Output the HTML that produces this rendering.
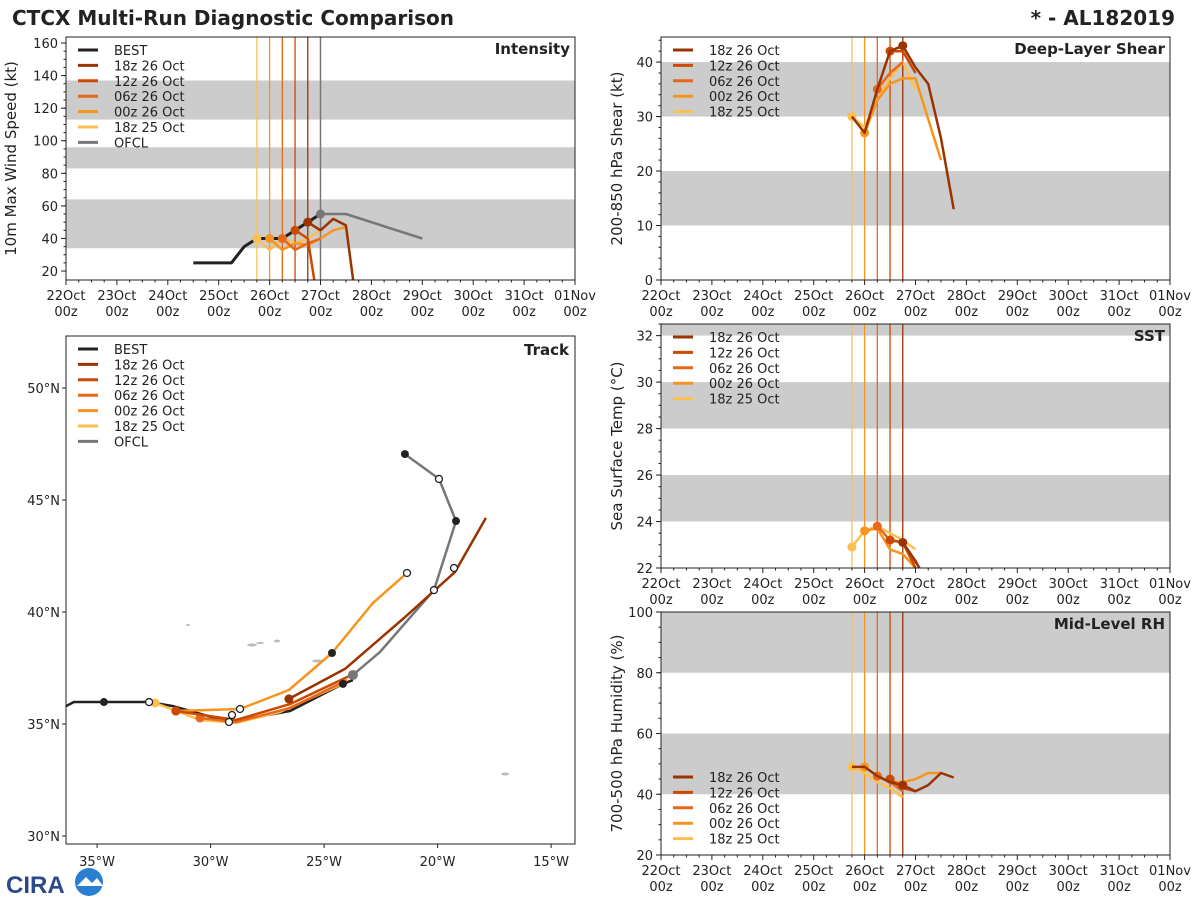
<!DOCTYPE html>
<html><head><meta charset="utf-8"><style>
html,body{margin:0;padding:0;background:#fff;}
svg{display:block;font-family:"DejaVu Sans","Liberation Sans",sans-serif;}
</style></head><body>
<svg id="c" width="1200" height="900" viewBox="0 0 1200 900">
<text x="12" y="25" font-size="20" font-weight="bold" fill="#222">CTCX Multi-Run Diagnostic Comparison</text>
<text x="1175" y="25" font-size="20" font-weight="bold" fill="#222" text-anchor="end">* - AL182019</text>
<g>
<text x="6" y="893" font-size="24" font-weight="bold" fill="#2a4a8a" font-family="Liberation Sans,sans-serif">CIRA</text>
<circle cx="89" cy="882" r="14" fill="#2a7fd0"/><path d="M77 886 L86 877 L92 883 L97 878 L103 886 Z" fill="#fff"/>
</g>
</svg>
<script>
// ---------------- data ----------------
const runNames = ["18z 26 Oct","12z 26 Oct","06z 26 Oct","00z 26 Oct","18z 25 Oct"];
const runColors = ["#993300","#cc4a00","#e8681a","#f7941d","#fdbf50"];
const runInit = [26.75,26.5,26.25,26.0,25.75];
const dateTicks = ["22Oct","23Oct","24Oct","25Oct","26Oct","27Oct","28Oct","29Oct","30Oct","31Oct","01Nov"];
// intensity (days since 22Oct 00z, kt)
const bestIntT = [24.5,25.25,25.5,25.75,26,26.25,26.5,26.75,27];
const bestIntV = [25,25,35,40,40,40,45,50,55];
const ofclIntT = [27,27.5,29];
const ofclIntV = [55,55,40];
const int18z26 = [[26.75,50],[27,45],[27.25,52],[27.5,48],[27.66,10]];
const int12z26 = [[26.5,45],[26.75,40],[26.9,10]];
const int06z26 = [[26.25,40],[26.5,33],[26.75,37],[27,40]];
const int00z26 = [[26,40],[26.25,33],[26.5,37],[26.75,36],[27,40],[27.25,45],[27.5,47]];
const int18z25 = [[25.75,40],[26,33],[26.25,40],[26.5,37],[26.75,40],[27,45]];
// shear
const shr18z26 = [[25.75,30],[26,27],[26.25,35],[26.5,42],[26.75,43],[27,39],[27.25,36],[27.5,26],[27.75,13]];
const shr12z26 = [[26.5,42],[26.75,42],[27,38]];
const shr06z26 = [[26.25,35],[26.5,38],[26.75,40]];
const shr00z26 = [[26,27],[26.25,33],[26.5,36],[26.75,37],[27,37],[27.5,22]];
const shr18z25 = [[25.75,30],[26,28],[26.25,33],[26.5,37],[26.75,40],[27,35]];
// sst
const sst18z26 = [[26.75,23.1],[27,22.3],[27.1,21.9]];
const sst12z26 = [[26.5,23.2],[26.75,23.1],[27,22]];
const sst06z26 = [[26.25,23.8],[26.5,23.2],[26.75,23.1],[27,22.2]];
const sst00z26 = [[26,23.6],[26.25,23.7],[26.5,22.8],[26.75,22.6],[27,22]];
const sst18z25 = [[25.75,22.9],[26,23.6],[26.25,23.8],[26.5,23.5],[26.75,23.2],[27,22.8]];
// rh
const rh18z26 = [[25.75,49],[26,49],[26.25,46],[26.5,44],[26.75,43],[27,41],[27.25,43],[27.5,47],[27.75,45.5]];
const rh12z26 = [[26.5,45],[26.75,42],[27,41]];
const rh06z26 = [[26.25,46],[26.5,44],[26.75,41]];
const rh00z26 = [[26,49],[26.25,46],[26.5,44],[26.75,44],[27,45],[27.25,47],[27.5,47]];
const rh18z25 = [[25.75,49],[26,47],[26.25,44],[26.5,42],[26.75,39]];
// track (lon, lat)
const bestLon = [-36.37,-36.02,-34.70,-32.71,-31.66,-29.19,-26.50,-24.17,-23.73];
const bestLat = [35.80,35.98,35.98,35.98,35.80,35.09,35.58,36.79,36.96];
const ofclLon = [-23.73,-22.54,-20.16,-19.19,-19.94,-21.44];
const ofclLat = [37.19,38.21,40.98,44.06,45.94,47.05];
const trk18z26 = [[-26.55,36.12],[-24.08,37.46],[-21.48,39.73],[-19.23,41.79],[-17.87,44.2]];
const trk12z26 = [[-31.53,35.58],[-28.88,35.18],[-26.5,35.89],[-23.9,37.14]];
const trk06z26 = [[-30.47,35.27],[-28.88,35.09],[-26.5,35.71],[-23.99,36.96]];
const trk00z26 = [[-31.53,35.58],[-28.7,35.67],[-26.55,36.52],[-24.65,38.17],[-22.85,40.4],[-21.35,41.74]];
const trk18z25 = [[-32.45,35.94],[-30.47,35.18],[-28.88,35.05],[-26.94,35.54],[-24.3,36.74]];

// ---------------- drawing ----------------
const svg = document.getElementById('c');
const NS = 'http://www.w3.org/2000/svg';
function mk(tag, attrs, parent){const e=document.createElementNS(NS,tag);for(const k in attrs)e.setAttribute(k,attrs[k]);(parent||svg).appendChild(e);return e;}
function txt(x,y,s,size,anchor,parent,extra){const e=mk('text',Object.assign({x:x,y:y,'font-size':size,'text-anchor':anchor||'start',fill:'#222'},extra||{}),parent);e.textContent=s;return e;}
function poly(pts,color,w,parent){return mk('polyline',{points:pts.map(p=>p[0].toFixed(1)+','+p[1].toFixed(1)).join(' '),fill:'none',stroke:color,'stroke-width':w,'stroke-linejoin':'round'},parent);}

function timePanel(cfg){
  const g = mk('g',{});
  
  
  const {x0,x1,y0,y1,vmin,vmax}=cfg;
  const X=d=>x0+(d-22)*(x1-x0)/10;
  const Y=v=>y1-(v-vmin)*(y1-y0)/(vmax-vmin);
  mk('defs',{},g).innerHTML=`<clipPath id="cl${cfg.id}"><rect x="${x0}" y="${y0}" width="${x1-x0}" height="${y1-y0}"/></clipPath>`;
  cfg.bands.forEach(b=>{const r=mk('rect',{x:x0,y:Y(Math.min(b[1],vmax)),width:x1-x0,height:Y(b[0])-Y(Math.min(b[1],vmax)),fill:'#cccccc'},g);
    
    });
  const dg=mk('g',{'clip-path':`url(#cl${cfg.id})`},g);
  runInit.forEach((t,i)=>{mk('line',{x1:X(t),x2:X(t),y1:y0,y2:y1,stroke:runColors[i],'stroke-width':1.3},dg);});
  if(cfg.ofclLine) mk('line',{x1:X(27),x2:X(27),y1:y0,y2:y1,stroke:'#777','stroke-width':1.5},dg);
  if(cfg.best){const l=poly(cfg.best.map(p=>[X(p[0]),Y(p[1])]),'#222',3,dg);
    
    }
  if(cfg.ofcl){const l=poly(cfg.ofcl.map(p=>[X(p[0]),Y(p[1])]),'#777',2.5,dg);
    
    
    mk('circle',{cx:X(cfg.ofcl[0][0]),cy:Y(cfg.ofcl[0][1]),r:4.5,fill:'#777'},dg);}
  for(let i=cfg.series.length-1;i>=0;i--){const s=cfg.series[i];
    const l=poly(s.map(p=>[X(p[0]),Y(p[1])]),runColors[i],2.5,dg);
    
    
    const ip=s.find(p=>Math.abs(p[0]-runInit[i])<0.01)||s[0];
    mk('circle',{cx:X(ip[0]),cy:Y(ip[1]),r:4.5,fill:runColors[i]},dg);}
  mk('rect',{x:x0,y:y0,width:x1-x0,height:y1-y0,fill:'none',stroke:'#222','stroke-width':1},g);
  for(let d=0;d<=10;d++){const x=X(22+d);mk('line',{x1:x,x2:x,y1:y1,y2:y1+5,stroke:'#222'},g);
    const t1=txt(x,y1+20,dateTicks[d],13,'middle',g);
    txt(x,y1+36,'00z',13,'middle',g);
    if(d<10)for(let q=1;q<4;q++)mk('line',{x1:x+q*(x1-x0)/40,x2:x+q*(x1-x0)/40,y1:y1,y2:y1+2.5,stroke:'#222'},g);}
  for(let v=cfg.tmin;v<=vmax+1e-6;v+=cfg.tstep){const y=Y(v);mk('line',{x1:x0-5,x2:x0,y1:y,y2:y,stroke:'#222'},g);
    const t=txt(x0-8,y+5,String(v),13,'end',g);}
  for(let v=cfg.mmin;v<=vmax+1e-6;v+=cfg.mstep){const y=Y(v);if(y<=y1&&y>=y0)mk('line',{x1:x0-2.5,x2:x0,y1:y,y2:y,stroke:'#222'},g);}
  const yt=txt(0,0,cfg.ylabel,15,'middle',g,{transform:`translate(${cfg.ylx},${(y0+y1)/2}) rotate(-90)`});
  
  const pt=txt(x1-5,y0+17,cfg.title,15,'end',g,{'font-weight':'bold'});
  
  legend(g,x0+8,y0+13+(cfg.legOff||0),cfg.legBest);
}
function legend(g,x,y,withBest){
  const lg=mk('g',{},g);
  
  
  let items=[];
  if(withBest)items.push(['BEST','#222']);
  runNames.forEach((n,i)=>items.push([n,runColors[i]]));
  if(withBest)items.push(['OFCL','#777']);
  items.forEach((it,k)=>{const yy=y+k*15.4;
    const e=mk('g',{},lg);
    
    
    mk('line',{x1:x+4,x2:x+24,y1:yy,y2:yy,stroke:it[1],'stroke-width':3},e);
    txt(x+40,yy+5,it[0],13,'start',e);});
}
timePanel({id:1,name:'intensity-panel',x0:66,x1:575,y0:37,y1:280,vmin:14.5,vmax:163.7,bands:[[34,64],[83,96],[113,137]],
  best:bestIntT.map((t,i)=>[t,bestIntV[i]]),ofcl:ofclIntT.map((t,i)=>[t,ofclIntV[i]]),ofclLine:true,
  series:[int18z26,int12z26,int06z26,int00z26,int18z25],tmin:20,tstep:20,mmin:20,mstep:5,
  ylabel:'10m Max Wind Speed (kt)',ylx:16,title:'Intensity',legBest:true});
timePanel({id:2,name:'shear-panel',x0:661,x1:1170,y0:37,y1:280,vmin:0,vmax:44.6,bands:[[10,20],[30,40]],
  series:[shr18z26,shr12z26,shr06z26,shr00z26,shr18z25],tmin:0,tstep:10,mmin:0,mstep:2,
  ylabel:'200-850 hPa Shear (kt)',ylx:622,title:'Deep-Layer Shear',legBest:false});
timePanel({id:3,name:'sst-panel',x0:661,x1:1170,y0:324,y1:568,vmin:22,vmax:32.5,bands:[[24,26],[28,30],[32,34]],
  series:[sst18z26,sst12z26,sst06z26,sst00z26,sst18z25],tmin:22,tstep:2,mmin:22,mstep:0.5,
  ylabel:'Sea Surface Temp (°C)',ylx:622,title:'SST',legBest:false});
timePanel({id:4,name:'rh-panel',x0:661,x1:1170,y0:612,y1:855,vmin:20,vmax:100,bands:[[40,60],[80,100]],
  series:[rh18z26,rh12z26,rh06z26,rh00z26,rh18z25],tmin:20,tstep:20,mmin:20,mstep:5,
  ylabel:'700-500 hPa Humidity (%)',ylx:622,title:'Mid-Level RH',legBest:false,legOff:152});

// track panel
(function(){
  const x0=66,x1=575,y0=336,y1=844;
  const LX=l=>x0+(l+36.37)*22.7, LY=a=>388+(50-a)*22.4;
  const g=mk('g',{});
  
  
  mk('defs',{},g).innerHTML=`<clipPath id="clt"><rect x="${x0}" y="${y0}" width="${x1-x0}" height="${y1-y0}"/></clipPath>`;
  const dg=mk('g',{'clip-path':'url(#clt)'},g);
  [[188,625,2,1],[252,645,5,1.5],[260,643,4,1],[277,641,3,1.5],[318,661,6,1.5],[505,774,4,1.5]].forEach(p=>mk('ellipse',{cx:p[0],cy:p[1],rx:p[2],ry:p[3],fill:'#bbb'},dg));
  const ofcl=ofclLon.map((l,i)=>[LX(l),LY(ofclLat[i])]);
  const ol=poly(ofcl,'#777',2.5,dg);
  const best=bestLon.map((l,i)=>[LX(l),LY(bestLat[i])]);
  const bl=poly(best,'#222',2.5,dg);
  const tr=[trk18z26,trk12z26,trk06z26,trk00z26,trk18z25];
  for(let i=tr.length-1;i>=0;i--){const p=tr[i].map(q=>[LX(q[0]),LY(q[1])]);
    const l=poly(p,runColors[i],2.5,dg);
    mk('circle',{cx:p[0][0],cy:p[0][1],r:4.5,fill:runColors[i]},dg);}
  [2,7].forEach(k=>mk('circle',{cx:best[k][0],cy:best[k][1],r:4,fill:'#222'},dg));
  [3,5].forEach(k=>mk('circle',{cx:best[k][0],cy:best[k][1],r:3.5,fill:'#fff',stroke:'#222','stroke-width':1.3},dg));
  [3,5].forEach(k=>mk('circle',{cx:ofcl[k][0],cy:ofcl[k][1],r:4,fill:'#222'},dg));
  [2,4].forEach(k=>mk('circle',{cx:ofcl[k][0],cy:ofcl[k][1],r:3.5,fill:'#fff',stroke:'#222','stroke-width':1.3},dg));
  mk('circle',{cx:ofcl[0][0],cy:ofcl[0][1],r:5,fill:'#777'},dg);
  [[332,653,1],[407,573,0],[454,568,0],[232,715,0],[240,709,0]].forEach(p=>p[2]?mk('circle',{cx:p[0],cy:p[1],r:4,fill:'#222'},dg):mk('circle',{cx:p[0],cy:p[1],r:3.5,fill:'#fff',stroke:'#222','stroke-width':1.3},dg));
  mk('rect',{x:x0,y:y0,width:x1-x0,height:y1-y0,fill:'none',stroke:'#222'},g);
  [-35,-30,-25,-20,-15].forEach(l=>{const x=LX(l);mk('line',{x1:x,x2:x,y1:y1,y2:y1+4,stroke:'#222'},g);
    const t=txt(x,y1+22,Math.abs(l)+'°W',13,'middle',g);});
  [30,35,40,45,50].forEach(a=>{const y=LY(a);mk('line',{x1:x0-4,x2:x0,y1:y,y2:y,stroke:'#222'},g);
    const t=txt(x0-6,y+5,a+'°N',13,'end',g);});
  const pt=txt(x1-6,y0+19,'Track',15,'end',g,{'font-weight':'bold'});
  legend(g,x0+8,y0+13,true);
})();
</script>
</body></html>
